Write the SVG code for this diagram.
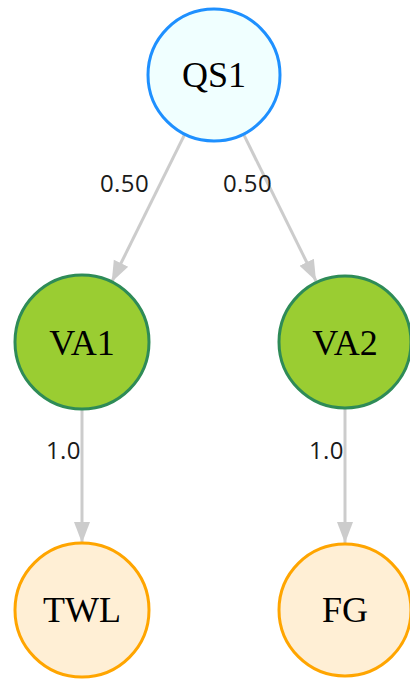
<svg xmlns="http://www.w3.org/2000/svg" width="410" height="681" viewBox="0 0 410 681">
<style>
.edge{stroke:#cccccc;stroke-width:3;fill:none}
.elabel{font-family:"Open Sans","DejaVu Sans",sans-serif;font-size:24px;letter-spacing:0.4px;fill:#1a1a1a}
.nlabel{font-family:"Liberation Serif","Times New Roman",serif;font-size:36px;fill:#000;text-anchor:middle}
.qs{fill:#f0ffff;stroke:#1e90ff;stroke-width:3}
.va{fill:#9acd32;stroke:#2e8b57;stroke-width:3}
.out{fill:#ffefd5;stroke:#ffa500;stroke-width:3}
</style>
<defs>
<marker id="arr" markerUnits="userSpaceOnUse" markerWidth="22" markerHeight="18" refX="21" refY="9" orient="auto">
<path d="M0,1 L21,9 L0,17 Z" fill="#cccccc"/>
</marker>
</defs>
<rect width="410" height="681" fill="#ffffff"/>
<g id="connectors">
<line class="edge" x1="184.8" y1="134.2" x2="111.7" y2="282" marker-end="url(#arr)"/>
<line class="edge" x1="243.5" y1="134.2" x2="316" y2="281" marker-end="url(#arr)"/>
<line class="edge" x1="82" y1="409" x2="82" y2="543" marker-end="url(#arr)"/>
<line class="edge" x1="345" y1="409" x2="345" y2="543" marker-end="url(#arr)"/>
<text class="elabel" x="100" y="192">0.50</text>
<text class="elabel" x="223" y="192">0.50</text>
<text class="elabel" x="46" y="459">1.0</text>
<text class="elabel" x="309" y="459">1.0</text>
</g>
<g id="QS1">
<circle class="qs" cx="214" cy="75" r="66"/>
<text class="nlabel" x="214" y="87">QS1</text>
</g>
<g id="VA1">
<circle class="va" cx="82" cy="342" r="67"/>
<text class="nlabel" x="82" y="355">VA1</text>
</g>
<g id="VA2">
<circle class="va" cx="345" cy="342" r="66"/>
<text class="nlabel" x="345" y="355">VA2</text>
</g>
<g id="TWL">
<circle class="out" cx="82" cy="610" r="67"/>
<text class="nlabel" x="82" y="622">TWL</text>
</g>
<g id="FG">
<circle class="out" cx="345" cy="610" r="66"/>
<text class="nlabel" x="345" y="622">FG</text>
</g>
</svg>
